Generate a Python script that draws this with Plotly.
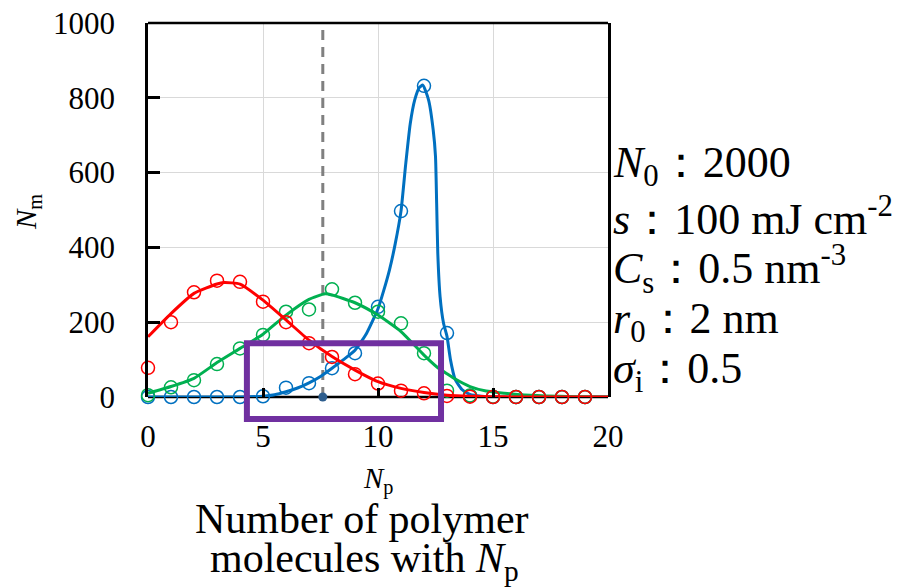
import plotly.graph_objects as go

# ---------------- data ----------------
np_points = list(range(0, 20))

red_markers = [78, 200, 280, 311, 308, 255, 200, 144, 107, 61, 36, 17, 10, 3, 1, 0, 0, 0, 0, 0]
green_markers = [5, 26, 45, 88, 130, 166, 228, 234, 288, 252, 228, 197, 117, 17, 4, 1, 0, 0, 0, 0]
blue_markers = [0, 0, 0, 0, 0, 2, 25, 37, 77, 117, 241, 497, 832, 171, 3, 0, 0, 0, 0, 0]

red_curve_x = [0, 1, 2, 3, 3.3, 4, 5, 6, 7, 8, 9, 10, 11, 12, 13, 14, 15, 16, 17, 18, 19, 20]
red_curve_y = [161, 223, 277, 302, 306, 302, 259, 206, 152, 108, 72, 41, 23, 12, 5, 2, 1, 0, 0, 0, 0, 0]

green_curve_x = [0, 1, 2, 3, 4, 5, 6, 7, 7.7, 8, 9, 10, 11, 12, 12.55, 13, 13.3, 14, 14.7, 15.5, 16.2, 17.3, 18.5, 20]
green_curve_y = [10, 28, 50, 92, 130, 168, 219, 261, 276, 273, 252, 219, 175, 112, 81, 62, 50, 28, 16, 10, 6, 3, 1, 0]

blue_curve_x = [0, 4, 5, 5.5, 6, 6.5, 7, 7.5, 8, 8.5, 9, 9.5, 10, 10.25, 10.5, 10.75, 11, 11.2, 11.4,
                11.6, 11.8, 11.95, 12.2, 12.4, 12.5, 12.55, 12.6, 12.7, 12.85, 13, 13.15, 13.35,
                13.65, 14, 14.5, 15, 20]
blue_curve_y = [0, 0, 2, 6, 14, 24, 38, 55, 77, 100, 125, 170, 236, 285, 340, 410, 497, 620, 730,
                795, 828, 834, 794, 714, 643, 518, 384, 268, 197, 162, 100, 48,
                20, 7, 2, 0, 0]

mean_np = 7.6                      # dashed reference line
box_x = [4.3, 12.74]               # highlighted region (data units)
box_y = [-59, 144]

x_ticks = [0, 5, 10, 15, 20]
y_ticks = [0, 200, 400, 600, 800, 1000]

param_lines = [
    "<i>N</i><sub>0</sub>：2000",
    "<i>s</i>：100 mJ cm<sup>-2</sup>",
    "<i>C</i><sub>s</sub>：0.5 nm<sup>-3</sup>",
    "<i>r</i><sub>0</sub>：2 nm",
    "<i>σ</i><sub>i</sub>：0.5",
]

# ---------------- styling ----------------
RED = "#FF0000"
GREEN = "#00B050"
BLUE = "#0070C0"
FONT = "Liberation Serif, Times New Roman, serif"

W, H = 900, 587
L, R, T, B = 148, 292, 23, 190
PW, PH = W - L - R, H - T - B
X_RANGE = [0, 20]
Y_RANGE = [0, 1000]


def px_x(px):
    return (px - L) / PW


def px_y(py):
    return (H - B - py) / PH


def dx(v):
    return (v - X_RANGE[0]) / (X_RANGE[1] - X_RANGE[0])


def dy(v):
    return (v - Y_RANGE[0]) / (Y_RANGE[1] - Y_RANGE[0])


fig = go.Figure()

# dashed mean line
fig.add_trace(go.Scatter(x=[mean_np, mean_np], y=Y_RANGE, mode="lines",
                         line=dict(color="#808080", width=3, dash="10px,7px"),
                         hoverinfo="skip", showlegend=False))

for cx, cy, mx, my, col in [
    (blue_curve_x, blue_curve_y, np_points, blue_markers, BLUE),
    (green_curve_x, green_curve_y, np_points, green_markers, GREEN),
    (red_curve_x, red_curve_y, np_points, red_markers, RED),
]:
    fig.add_trace(go.Scatter(x=mx, y=my, mode="markers",
                             marker=dict(symbol="circle-open", size=13, color=col,
                                         line=dict(color=col, width=1.5)),
                             showlegend=False, cliponaxis=False))
    fig.add_trace(go.Scatter(x=cx, y=cy, mode="lines",
                             line=dict(color=col, width=3, shape="spline", smoothing=0.5),
                             showlegend=False, cliponaxis=False))

# dot at mean on the axis
fig.add_trace(go.Scatter(x=[mean_np], y=[0], mode="markers",
                         marker=dict(color="#2E5E8E", size=9),
                         showlegend=False, cliponaxis=False))

shapes = [
    dict(type="line", xref="paper", yref="paper", x0=0, x1=1, y0=0, y1=0,
         line=dict(color="black", width=2.5), layer="below"),
    dict(type="line", xref="paper", yref="paper", x0=0, x1=1, y0=1, y1=1,
         line=dict(color="black", width=2.5), layer="above"),
    dict(type="rect", xref="paper", yref="paper",
         x0=dx(box_x[0]), x1=dx(box_x[1]), y0=dy(box_y[0]), y1=dy(box_y[1]),
         line=dict(color="#7030A0", width=6), layer="above"),
]

annotations = []
line_centers = [165, 216, 269, 321, 371]
for txt, yc in zip(param_lines, line_centers):
    annotations.append(dict(text=txt, xref="paper", yref="paper", x=px_x(611), y=px_y(yc),
                            xanchor="left", yanchor="middle", showarrow=False,
                            font=dict(family=FONT, size=44, color="black")))

annotations += [
    dict(text="<i>N</i><sub>m</sub>", xref="paper", yref="paper", x=px_x(28), y=px_y(212),
         textangle=-90, xanchor="center", yanchor="middle", showarrow=False,
         font=dict(family=FONT, size=29, color="black")),
    dict(text="<i>N</i><sub>p</sub>", xref="paper", yref="paper", x=px_x(378), y=px_y(480),
         xanchor="center", yanchor="middle", showarrow=False,
         font=dict(family=FONT, size=29, color="black")),
    dict(text="Number of polymer", xref="paper", yref="paper", x=px_x(362), y=px_y(519),
         xanchor="center", yanchor="middle", showarrow=False,
         font=dict(family=FONT, size=42, color="black")),
    dict(text="molecules with <i>N</i><sub>p</sub>", xref="paper", yref="paper",
         x=px_x(364), y=px_y(561), xanchor="center", yanchor="middle", showarrow=False,
         font=dict(family=FONT, size=42, color="black")),
]

fig.update_layout(
    template="none",
    width=W, height=H,
    margin=dict(l=L, r=R, t=T, b=B, pad=0, autoexpand=False),
    paper_bgcolor="white", plot_bgcolor="white",
    font=dict(family=FONT, color="black"),
    shapes=shapes, annotations=annotations,
    showlegend=False,
    xaxis=dict(range=X_RANGE, tickvals=x_ticks, showgrid=True, gridcolor="#D9D9D9", gridwidth=1,
               zeroline=False, showline=False, ticks="inside", ticklen=9, tickwidth=2.5,
               tickcolor="black", ticklabelstandoff=18, automargin=False,
               tickfont=dict(family=FONT, size=31, color="black")),
    yaxis=dict(range=Y_RANGE, tickvals=y_ticks, showgrid=True, gridcolor="#D9D9D9", gridwidth=1,
               zeroline=False, showline=True, mirror=True, linecolor="black", linewidth=2.5,
               ticks="inside", ticklen=12, tickwidth=2.5, tickcolor="black",
               ticklabelstandoff=24, automargin=False,
               tickfont=dict(family=FONT, size=31, color="black")),
)

fig.write_html("out.html")
